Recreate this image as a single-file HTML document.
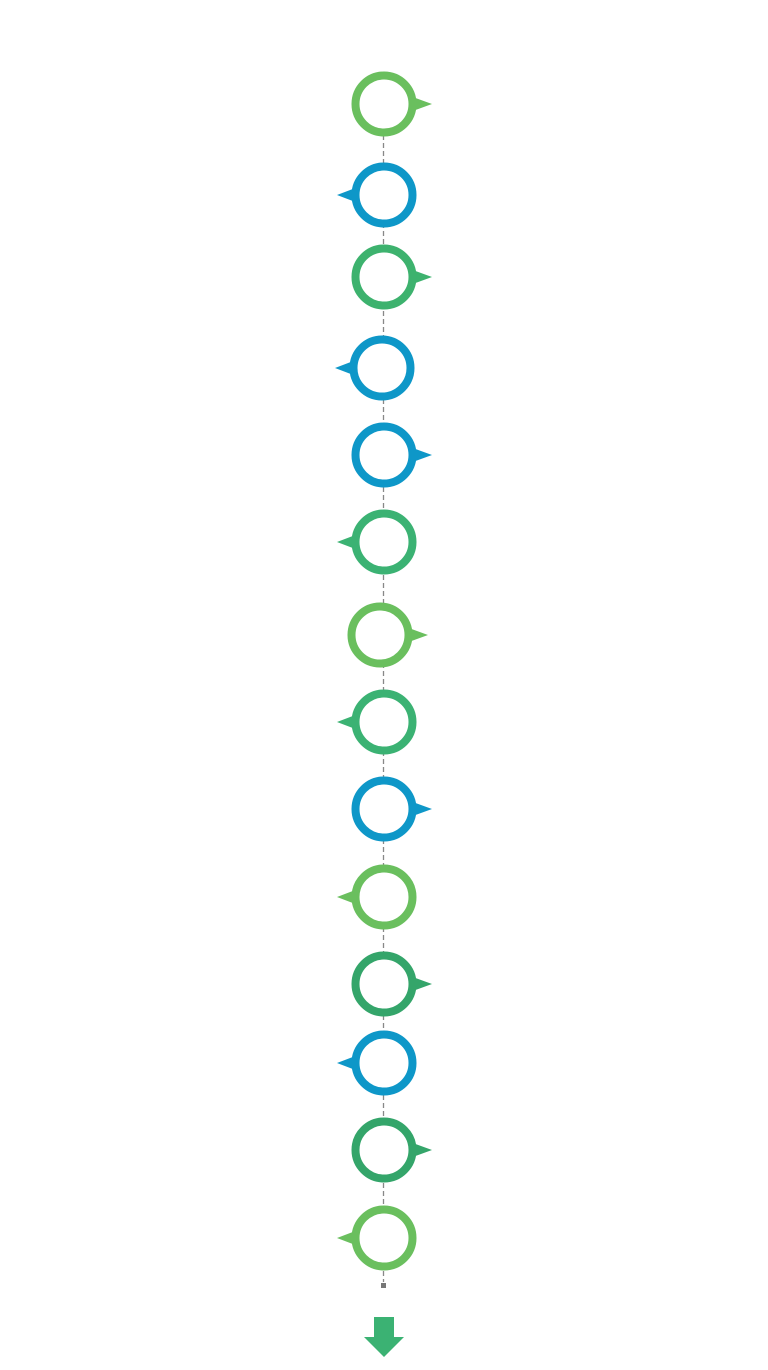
<!DOCTYPE html>
<html><head><style>html,body{margin:0;padding:0;background:#fff;}</style></head>
<body>
<svg width="768" height="1365" viewBox="0 0 768 1365" xmlns="http://www.w3.org/2000/svg">
<line x1="383.5" y1="135" x2="383.5" y2="1282" stroke="#888" stroke-width="1.3" stroke-dasharray="5,3"/>
<rect x="381" y="1283" width="5" height="5" fill="#777"/>
<g stroke-width="8" fill="#fff">
<polygon points="410,96 432,104 410,112" fill="#6abf5e" stroke="none"/><circle cx="384" cy="104" r="28.5" stroke="#6abf5e"/>
<polygon points="358,187 337,195 358,203" fill="#0e97c8" stroke="none"/><circle cx="384" cy="195" r="28.5" stroke="#0e97c8"/>
<polygon points="410,269 432,277 410,285" fill="#3db26e" stroke="none"/><circle cx="384" cy="277" r="28.5" stroke="#3db26e"/>
<polygon points="356,360 335,368 356,376" fill="#0e97c8" stroke="none"/><circle cx="382" cy="368" r="28.5" stroke="#0e97c8"/>
<polygon points="410,447 432,455 410,463" fill="#0e97c8" stroke="none"/><circle cx="384" cy="455" r="28.5" stroke="#0e97c8"/>
<polygon points="358,534 337,542 358,550" fill="#3bb273" stroke="none"/><circle cx="384" cy="542" r="28.5" stroke="#3bb273"/>
<polygon points="406,627 428,635 406,643" fill="#6abf5e" stroke="none"/><circle cx="380" cy="635" r="28.5" stroke="#6abf5e"/>
<polygon points="358,714 337,722 358,730" fill="#3bb273" stroke="none"/><circle cx="384" cy="722" r="28.5" stroke="#3bb273"/>
<polygon points="410,801 432,809 410,817" fill="#0e97c8" stroke="none"/><circle cx="384" cy="809" r="28.5" stroke="#0e97c8"/>
<polygon points="358,889 337,897 358,905" fill="#6abf5e" stroke="none"/><circle cx="384" cy="897" r="28.5" stroke="#6abf5e"/>
<polygon points="410,976 432,984 410,992" fill="#34a56a" stroke="none"/><circle cx="384" cy="984" r="28.5" stroke="#34a56a"/>
<polygon points="358,1055 337,1063 358,1071" fill="#0e97c8" stroke="none"/><circle cx="384" cy="1063" r="28.5" stroke="#0e97c8"/>
<polygon points="410,1142 432,1150 410,1158" fill="#34a56a" stroke="none"/><circle cx="384" cy="1150" r="28.5" stroke="#34a56a"/>
<polygon points="358,1230 337,1238 358,1246" fill="#6abf5e" stroke="none"/><circle cx="384" cy="1238" r="28.5" stroke="#6abf5e"/>
</g>
<polygon points="374,1317 394,1317 394,1337 404,1337 384,1357 364,1337 374,1337" fill="#3bb273"/>
</svg>
</body></html>
